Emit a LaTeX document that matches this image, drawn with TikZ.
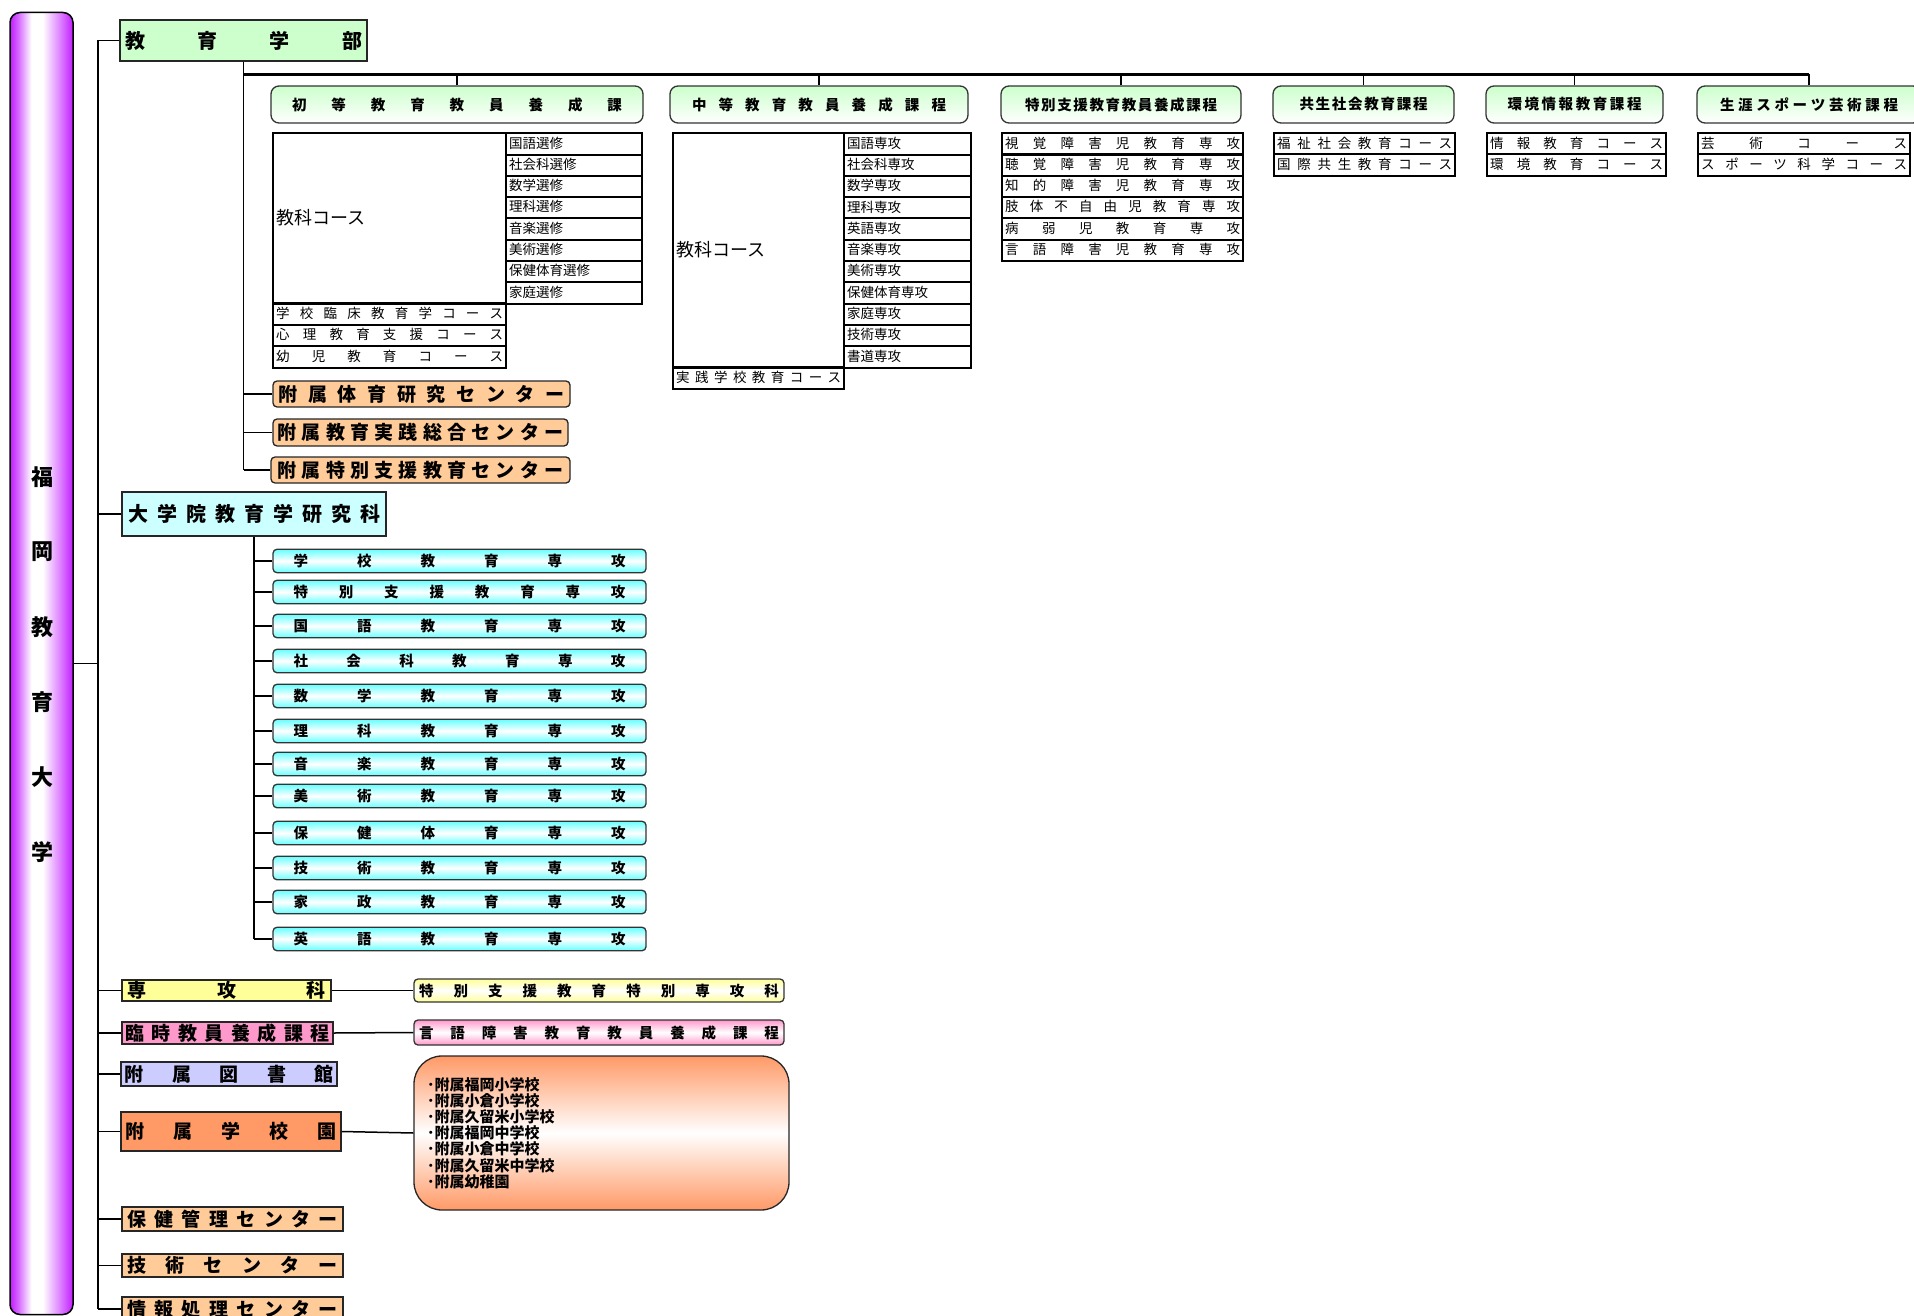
\documentclass[tikz,border=0pt]{standalone}
\usepackage{fontspec}
\setmainfont{Noto Sans CJK JP}
\usepackage{tikz}
\usetikzlibrary{matrix,positioning}
\usepackage{xcolor}

\definecolor{pillarpurple}{HTML}{C21CFF}
\definecolor{facgreen}{HTML}{CCFFCC}
\definecolor{gradcyan}{HTML}{CCFFFF}
\definecolor{majorcyan}{HTML}{66FFFF}
\definecolor{ctrorange}{HTML}{FFCC99}
\definecolor{senyellow}{HTML}{FFFF99}
\definecolor{rinpink}{HTML}{FF99CC}
\definecolor{libblue}{HTML}{CCCCFF}
\definecolor{schorange}{HTML}{FF9966}
\pgfdeclarehorizontalshading{pillarshade}{100bp}{color(0bp)=(pillarpurple);
    color(25bp)=(pillarpurple); color(31bp)=(pillarpurple!70!white);
    color(42bp)=(white); color(51bp)=(white);
    color(67bp)=(pillarpurple!65!white); color(75bp)=(pillarpurple);
    color(100bp)=(pillarpurple)}

% spread the letters of a label over a fixed width
\ExplSyntaxOn
\cs_new_protected:Npn \org_spread:n #1
  {
    \tl_set:Nx \l_tmpb_tl {#1}
    \bool_set_true:N \l_tmpa_bool
    \tl_map_inline:Nn \l_tmpb_tl
      {
        \bool_if:NTF \l_tmpa_bool { \bool_set_false:N \l_tmpa_bool } { \hfill }
        ##1
      }
  }
\NewDocumentCommand \spreadtext { m } { \org_spread:n {#1} }
\ExplSyntaxOff
\newcommand\spbox[2]{\hbox to #1{\spreadtext{#2}}}

\begin{document}
\begin{tikzpicture}[x=1pt, y=-1pt,
            conn/.style={draw=black, line width=1.5pt},
            busline/.style={draw=black, line width=2.4pt},
            plainbox/.style={draw=black!85, line width=1.5pt, inner sep=0pt,
                font=\fontsize{19}{21}\selectfont\bfseries},
            coursebox/.style={draw=black!80, line width=1.3pt, rounded corners=8pt,
                top color=facgreen, bottom color=white, inner sep=0pt,
                minimum height=37pt, font=\fontsize{14.5}{16}\selectfont\bfseries},
            ctrbox/.style={plainbox, rounded corners=4pt, fill=ctrorange, line width=1.3pt},
            majorbox/.style={draw=black!80, line width=1.3pt, rounded corners=4pt,
                top color=majorcyan, bottom color=majorcyan, middle color=white,
                inner sep=0pt, minimum width=373pt, minimum height=23.5pt,
                font=\fontsize{14.5}{16}\selectfont\bfseries},
            sidebox/.style={draw=black!80, line width=1.3pt, rounded corners=4pt,
                top color=#1, bottom color=#1, middle color=white, inner sep=0pt,
                minimum width=370pt, font=\fontsize{14.5}{16}\selectfont\bfseries},
            listbox/.style={draw=black!85, line width=1.3pt, rounded corners=28pt,
                top color=schorange, bottom color=schorange, middle color=white,
                minimum width=375pt, minimum height=154pt, text width=349pt,
                inner xsep=13pt, align=left, font=\fontsize{15}{16.2}\selectfont\bfseries},
            tcell/.style={draw=black, line width=2pt, inner xsep=3pt, inner ysep=0pt,
                minimum height=21.3pt, text height=11pt, text depth=2.5pt,
                font=\fontsize{13.5}{15}\selectfont},
            subcol/.style={matrix of nodes, row sep=-2pt, inner sep=0pt,
                nodes={tcell, text width=#1, align=left}},
            spreadcol/.style={matrix of nodes, row sep=-2pt, inner sep=0pt,
                nodes={tcell}}]
\useasboundingbox (0,0) rectangle (1914,1316);

% university pillar
\node[draw=black, line width=1.5pt, rounded corners=10pt, shading=pillarshade,
      minimum width=63pt, minimum height=1302pt] (univ) at (41.5,663.5) {};
\foreach \ch [count=\k] in {福,岡,教,育,大,学}
    \node[font=\fontsize{22}{24}\selectfont\bfseries] (univ\k) at (42,{402+75*\k}) {\ch};

% faculty
\node[plainbox, fill=facgreen, minimum width=247pt, minimum height=41pt,
      font=\fontsize{20}{22}\selectfont\bfseries] (edu) at (243.5,40.5) {\spbox{237pt}{教育学部}};

\node[coursebox, minimum width=372pt] (shoto) at (457,104.5) {\spbox{330pt}{初等教育教員養成課}};
\node[coursebox, minimum width=298pt] (chuto) at (819,104.5) {\spbox{254pt}{中等教育教員養成課程}};
\node[coursebox, minimum width=240pt] (tokushi) at (1121,104.5) {\spbox{192pt}{特別支援教育教員養成課程}};
\node[coursebox, minimum width=181pt] (kyosei) at (1363.5,104.5) {\spbox{128pt}{共生社会教育課程}};
\node[coursebox, minimum width=177pt] (kankyo) at (1574.5,104.5) {\spbox{134pt}{環境情報教育課程}};
\node[coursebox, minimum width=224pt] (shogai) at (1809,104.5) {\spbox{178pt}{生涯スポーツ芸術課程}};

% elementary course table
\matrix (shoSub) [subcol=130pt, anchor=north west] at (505,132) {
    国語選修 \\ 社会科選修 \\ 数学選修 \\ 理科選修 \\
    音楽選修 \\ 美術選修 \\ 保健体育選修 \\ 家庭選修 \\
};
\node[tcell, anchor=north east, text width=227pt, align=left, minimum height=170.4pt,
      text height=15pt, text depth=3pt, font=\fontsize{18}{20}\selectfont]
      (shoKyoka) at ([xshift=2pt]shoSub.north west) {教科コース};
\matrix (shoLow) [spreadcol, anchor=north west] at ([yshift=2pt]shoKyoka.south west) {
    \spbox{227pt}{学校臨床教育学コース} \\
    \spbox{227pt}{心理教育支援コース} \\
    \spbox{227pt}{幼児教育コース} \\
};

% secondary course table
\matrix (chuSub) [subcol=121pt, anchor=north west] at (843,132) {
    国語専攻 \\ 社会科専攻 \\ 数学専攻 \\ 理科専攻 \\ 英語専攻 \\ 音楽専攻 \\
    美術専攻 \\ 保健体育専攻 \\ 家庭専攻 \\ 技術専攻 \\ 書道専攻 \\
};
\node[tcell, anchor=north east, text width=165pt, align=left, minimum height=234.3pt,
      text height=15pt, text depth=3pt, font=\fontsize{18}{20}\selectfont]
      (chuKyoka) at ([xshift=2pt]chuSub.north west) {教科コース};
\matrix (chuLow) [spreadcol, anchor=north west] at ([yshift=2pt]chuKyoka.south west) {
    \spbox{165pt}{実践学校教育コース} \\
};

% other course tables
\matrix (tokushiSub) [spreadcol, anchor=north west] at (1001,132) {
    \spbox{235pt}{視覚障害児教育専攻} \\
    \spbox{235pt}{聴覚障害児教育専攻} \\
    \spbox{235pt}{知的障害児教育専攻} \\
    \spbox{235pt}{肢体不自由児教育専攻} \\
    \spbox{235pt}{病弱児教育専攻} \\
    \spbox{235pt}{言語障害児教育専攻} \\
};
\matrix (kyoseiSub) [spreadcol, anchor=north west] at (1273,132) {
    \spbox{175pt}{福祉社会教育コース} \\
    \spbox{175pt}{国際共生教育コース} \\
};
\matrix (kankyoSub) [spreadcol, anchor=north west] at (1486,132) {
    \spbox{173pt}{情報教育コース} \\
    \spbox{173pt}{環境教育コース} \\
};
\matrix (shogaiSub) [spreadcol, anchor=north west] at (1697,132) {
    \spbox{206pt}{芸術コース} \\
    \spbox{206pt}{スポーツ科学コース} \\
};

% attached centres of the faculty
\node[ctrbox, minimum width=297pt, minimum height=26pt] (fz1) at (421.5,394) {\spbox{286pt}{附属体育研究センター}};
\node[ctrbox, minimum width=295pt, minimum height=27pt] (fz2) at (420.5,432.5) {\spbox{286pt}{附属教育実践総合センター}};
\node[ctrbox, minimum width=299pt, minimum height=26pt] (fz3) at (420.5,470) {\spbox{286pt}{附属特別支援教育センター}};

% graduate school
\node[plainbox, fill=gradcyan, minimum width=264pt, minimum height=44pt,
      font=\fontsize{20}{22}\selectfont\bfseries] (grad) at (254,514) {\spbox{252pt}{大学院教育学研究科}};
\foreach \y/\lab [count=\i] in {561/学校教育専攻, 592/特別支援教育専攻, 626/国語教育専攻,
        661/社会科教育専攻, 696/数学教育専攻, 731/理科教育専攻, 764/音楽教育専攻,
        796/美術教育専攻, 833/保健体育専攻, 868/技術教育専攻, 902/家政教育専攻,
        939/英語教育専攻}
    \node[majorbox] (maj\i) at (459.5,\y) {\spbox{332pt}{\lab}};

% other units
\node[plainbox, fill=senyellow, minimum width=209pt, minimum height=21pt] (senkoka) at (226.5,990.5) {\spbox{198pt}{専攻科}};
\node[sidebox=senyellow, minimum height=23pt] (tokusen) at (599,990.5) {\spbox{360pt}{特別支援教育特別専攻科}};
\node[plainbox, fill=rinpink, minimum width=211pt, minimum height=22pt] (rinji) at (227.5,1033) {\spbox{205pt}{臨時教員養成課程}};
\node[sidebox=rinpink, minimum height=25pt] (gengo) at (599,1032.5) {\spbox{360pt}{言語障害教育教員養成課程}};
\node[plainbox, fill=libblue, minimum width=216pt, minimum height=24pt] (tosho) at (229,1074) {\spbox{209pt}{附属図書館}};
\node[plainbox, fill=schorange, minimum width=220pt, minimum height=39pt] (gakko) at (231,1131.5) {\spbox{212pt}{附属学校園}};
\node[listbox] (fzlist) at (601.5,1133) {･附属福岡小学校\\ ･附属小倉小学校\\ ･附属久留米小学校\\
    ･附属福岡中学校\\ ･附属小倉中学校\\ ･附属久留米中学校\\ ･附属幼稚園};
\node[plainbox, fill=ctrorange, minimum width=221pt, minimum height=24pt] (hoken) at (232.5,1219) {\spbox{211pt}{保健管理センター}};
\node[plainbox, fill=ctrorange, minimum width=221pt, minimum height=23pt] (gijutsu) at (232.5,1265.5) {\spbox{211pt}{技術センター}};
\node[plainbox, fill=ctrorange, minimum width=221pt, minimum height=24pt] (joho) at (232.5,1309) {\spbox{211pt}{情報処理センター}};

% connectors
\coordinate (trunk) at (98,0);
\coordinate (busy) at (0,74.5);
\draw[conn] (univ.east) -- (univ.east -| trunk);
\draw[conn] (edu.west -| trunk) -- (joho.west -| trunk);
\foreach \n in {edu,grad,senkoka,rinji,tosho,gakko,hoken,gijutsu,joho}
    \draw[conn] (\n.west -| trunk) -- (\n.west);
\draw[conn] (edu.south) -- (edu.south |- fz3.west);
\foreach \n in {fz1,fz2,fz3}
    \draw[conn] (edu.south |- \n.west) -- (\n.west);
\draw[busline] (edu.south |- busy) -- (shogai.north |- busy);
\foreach \n in {shoto,chuto,tokushi,kyosei,kankyo,shogai}
    \draw[conn] (\n.north) -- (\n.north |- busy);
\draw[busline] (grad.south) -- (grad.south |- maj12.west);
\foreach \i in {1,...,12}
    \draw[conn] (grad.south |- maj\i.west) -- (maj\i.west);
\draw[conn] (senkoka.east) -- (tokusen.west);
\draw[conn] (rinji.east) -- (gengo.west);
\draw[conn] (gakko.east) -- (fzlist.west);
\end{tikzpicture}
\end{document}
